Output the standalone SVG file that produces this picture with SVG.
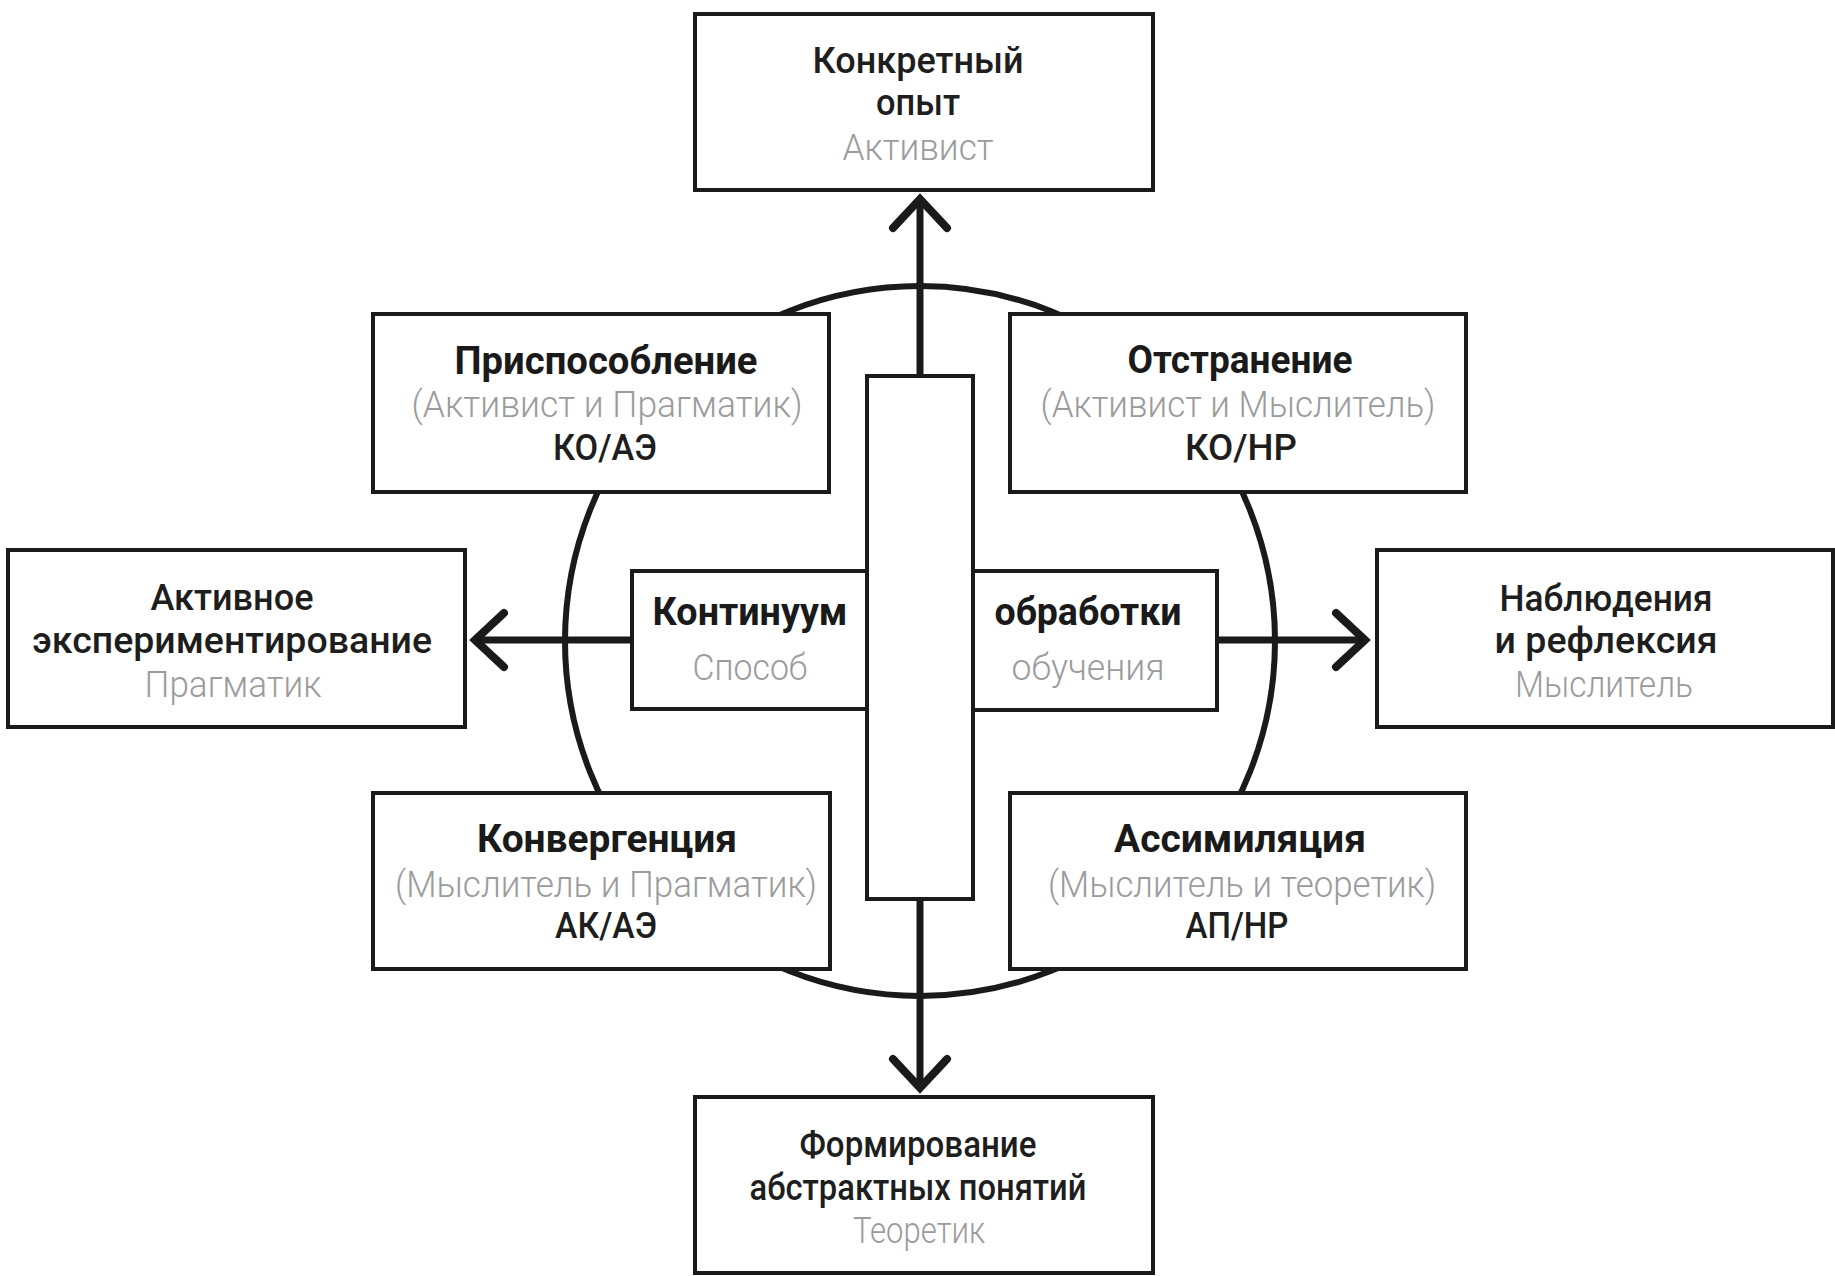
<svg xmlns="http://www.w3.org/2000/svg" width="1835" height="1276" viewBox="0 0 1835 1276">
<defs>
<style>
.box{fill:#fff;stroke:#1a1a1a;stroke-width:4}
.ring{fill:none;stroke:#1a1a1a;stroke-width:6}
.ln{stroke:#1a1a1a;stroke-width:7;fill:none}
.t{font-family:Roboto,"Liberation Sans","DejaVu Sans",sans-serif;font-size:37px;text-anchor:middle}
.m{font-weight:500;fill:#1e1e1e}
.b{font-weight:700;fill:#1a1a1a;font-size:38px}
.g{font-weight:300;fill:#9b9b9b}
</style>
<marker id="chev" markerUnits="userSpaceOnUse" viewBox="-45 -40 55 80" refX="0" refY="0" markerWidth="55" markerHeight="80" orient="auto" overflow="visible">
<path d="M-29,-27 L0,0 L-29,27" fill="none" stroke="#1a1a1a" stroke-width="8" stroke-linecap="round" stroke-linejoin="miter"/>
</marker>
</defs>
<rect width="1835" height="1276" fill="#fff"/>
<circle class="ring" cx="920" cy="641" r="355"/>
<g id="connectors">
<line class="ln" x1="920" y1="376" x2="920" y2="199" marker-end="url(#chev)"/>
<line class="ln" x1="920" y1="899" x2="920" y2="1088" marker-end="url(#chev)"/>
<line class="ln" x1="632" y1="640" x2="475" y2="640" marker-end="url(#chev)"/>
<line class="ln" x1="1217" y1="640" x2="1365" y2="640" marker-end="url(#chev)"/>
</g>
<g id="axis-rect"><rect class="box" x="867" y="376" width="106" height="523"/></g>
<g id="n-top">
<rect class="box" x="695" y="14" width="458" height="176"/>
<text class="t m" x="918" y="73" textLength="211" lengthAdjust="spacingAndGlyphs">Конкретный</text>
<text class="t m" x="918" y="115" textLength="84" lengthAdjust="spacingAndGlyphs">опыт</text>
<text class="t g" x="918" y="160" textLength="151" lengthAdjust="spacingAndGlyphs">Активист</text>
</g>
<g id="n-accom">
<rect class="box" x="373" y="314" width="456" height="178"/>
<text class="t b" x="606" y="374" textLength="303" lengthAdjust="spacingAndGlyphs">Приспособление</text>
<text class="t g" x="607" y="417" textLength="391" lengthAdjust="spacingAndGlyphs">(Активист и Прагматик)</text>
<text class="t m" x="605" y="460" textLength="104" lengthAdjust="spacingAndGlyphs">КО/АЭ</text>
</g>
<g id="n-diverg">
<rect class="box" x="1010" y="314" width="456" height="178"/>
<text class="t b" x="1240" y="373" textLength="225" lengthAdjust="spacingAndGlyphs">Отстранение</text>
<text class="t g" x="1238" y="417" textLength="395" lengthAdjust="spacingAndGlyphs">(Активист и Мыслитель)</text>
<text class="t m" x="1241" y="460" textLength="112" lengthAdjust="spacingAndGlyphs">КО/НР</text>
</g>
<g id="n-left">
<rect class="box" x="8" y="550" width="457" height="177"/>
<text class="t m" x="232" y="610" textLength="163" lengthAdjust="spacingAndGlyphs">Активное</text>
<text class="t m" x="232" y="653" textLength="400" lengthAdjust="spacingAndGlyphs">экспериментирование</text>
<text class="t g" x="233" y="697" textLength="177" lengthAdjust="spacingAndGlyphs">Прагматик</text>
</g>
<g id="n-right">
<rect class="box" x="1377" y="550" width="456" height="177"/>
<text class="t m" x="1606" y="611" textLength="213" lengthAdjust="spacingAndGlyphs">Наблюдения</text>
<text class="t m" x="1606" y="653" textLength="223" lengthAdjust="spacingAndGlyphs">и рефлексия</text>
<text class="t g" x="1604" y="697" textLength="178" lengthAdjust="spacingAndGlyphs">Мыслитель</text>
</g>
<g id="n-continuum">
<rect class="box" x="632" y="571" width="235" height="138"/>
<text class="t b" x="750" y="625" textLength="195" lengthAdjust="spacingAndGlyphs">Континуум</text>
<text class="t g" x="750" y="680" textLength="115" lengthAdjust="spacingAndGlyphs">Способ</text>
</g>
<g id="n-processing">
<rect class="box" x="973" y="571" width="244" height="139"/>
<text class="t b" x="1088" y="625" textLength="187" lengthAdjust="spacingAndGlyphs">обработки</text>
<text class="t g" x="1088" y="680" textLength="153" lengthAdjust="spacingAndGlyphs">обучения</text>
</g>
<g id="n-converg">
<rect class="box" x="373" y="793" width="457" height="176"/>
<text class="t b" x="607" y="852" textLength="260" lengthAdjust="spacingAndGlyphs">Конвергенция</text>
<text class="t g" x="606" y="897" textLength="422" lengthAdjust="spacingAndGlyphs">(Мыслитель и Прагматик)</text>
<text class="t m" x="606" y="938" textLength="102" lengthAdjust="spacingAndGlyphs">АК/АЭ</text>
</g>
<g id="n-assim">
<rect class="box" x="1010" y="793" width="456" height="176"/>
<text class="t b" x="1240" y="852" textLength="252" lengthAdjust="spacingAndGlyphs">Ассимиляция</text>
<text class="t g" x="1242" y="897" textLength="388" lengthAdjust="spacingAndGlyphs">(Мыслитель и теоретик)</text>
<text class="t m" x="1237" y="938" textLength="103" lengthAdjust="spacingAndGlyphs">АП/НР</text>
</g>
<g id="n-bottom">
<rect class="box" x="695" y="1097" width="458" height="176"/>
<text class="t m" x="918" y="1157" textLength="237" lengthAdjust="spacingAndGlyphs">Формирование</text>
<text class="t m" x="918" y="1200" textLength="337" lengthAdjust="spacingAndGlyphs">абстрактных понятий</text>
<text class="t g" x="919" y="1243" textLength="132" lengthAdjust="spacingAndGlyphs">Теоретик</text>
</g>
</svg>
